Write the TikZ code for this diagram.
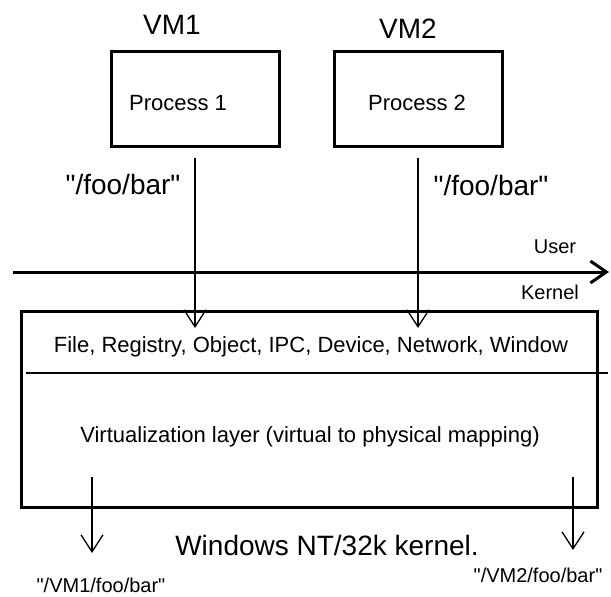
\documentclass[tikz,border=0pt]{standalone}
\usepackage{fontspec}
\setmainfont{Liberation Sans}[Ligatures=TeXOff]
\usetikzlibrary{arrows.meta}
\begin{document}
\begin{tikzpicture}[x=1pt,y=-1pt,
 procbox/.style={draw,line width=3pt,minimum width=168pt,minimum height=95pt,inner sep=0pt},
 kernbox/.style={draw,line width=3pt,minimum width=576pt,minimum height=196pt,inner sep=0pt},
 flow/.style={line width=1.3pt,-{Straight Barb[length=17pt,width=22pt]}},
 bigtxt/.style={font=\fontsize{28}{30}\selectfont},
 midtxt/.style={font=\fontsize{22}{24}\selectfont},
 smalltxt/.style={font=\fontsize{20}{22}\selectfont}]
 \useasboundingbox (0,0) rectangle (611,597);
 % virtual machines
 \node[bigtxt] (vmone) at (172,25) {VM1};
 \node[bigtxt] (vmtwo) at (408,29) {VM2};
 \node[procbox] (procone) at (195,99) {};
 \node[procbox] (proctwo) at (418,99) {};
 \node[midtxt] (ponetxt) at (178,103) {Process 1};
 \node[midtxt] (ptwotxt) at (417,103) {Process 2};
 \node[bigtxt] (pathone) at (123,184) {"/foo/bar"};
 \node[bigtxt] (pathtwo) at (491,185) {"/foo/bar"};
 % user / kernel boundary
 \coordinate (lineleft) at (13,272);
 \coordinate (lineright) at (609,272);
 \draw[line width=3pt,-{Straight Barb[length=16pt,width=22pt]}] (lineleft) -- (lineright);
 \node[smalltxt] (user) at (555,247) {User};
 \node[smalltxt] (kernlbl) at (550,292) {Kernel};
 % kernel
 \node[kernbox] (kernel) at (309,409) {};
 \node[midtxt] (objects) at (311,347) {File, Registry, Object, IPC, Device, Network, Window};
 \draw[line width=2pt] (26,373) -- (608,373);
 \node[midtxt] (virtlayer) at (310,437) {Virtualization layer (virtual to physical mapping)};
 \node[bigtxt] (ntkernel) at (327,545) {Windows NT/32k kernel.};
 % redirected names
 \node[smalltxt] (realone) at (101,585) {"/VM1/foo/bar"};
 \node[smalltxt] (realtwo) at (538,575) {"/VM2/foo/bar"};
 \coordinate (hitone) at (195,328);
 \coordinate (hittwo) at (418,328);
 \coordinate (outone) at (92,477);
 \coordinate (outtwo) at (573,477);
 \coordinate (endone) at (92,553);
 \coordinate (endtwo) at (573,550);
 \draw[flow] ([yshift=-10pt]procone.south) -- (hitone);
 \draw[flow] ([yshift=-10pt]proctwo.south) -- (hittwo);
 \draw[flow] (outone) -- (endone);
 \draw[flow] (outtwo) -- (endtwo);
\end{tikzpicture}
\end{document}
